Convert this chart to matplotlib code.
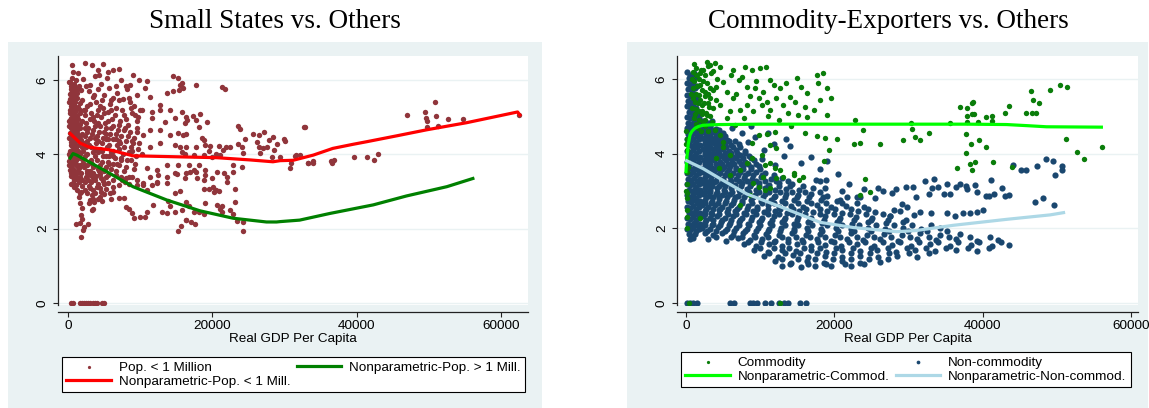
import matplotlib
matplotlib.use("Agg")
import matplotlib.pyplot as plt
from matplotlib.patches import Rectangle

# ---------------- left panel: small states ----------------
# (real GDP per capita, value) for countries with pop. < 1 million
small_pts = [
    (300, 5.95), (500, 6.05), (800, 5.9), (1100, 6.0), (1500, 5.85), (400, 5.75), (700, 5.7), (1000, 5.8),
    (1300, 5.65), (600, 5.6), (250, 5.62), (1800, 5.72), (900, 5.55),
    (300, 5.5), (500, 5.45), (750, 5.48), (1000, 5.4), (1250, 5.52), (1600, 5.38), (2000, 5.45), (350, 5.3),
    (600, 5.25), (850, 5.32), (1100, 5.22), (1400, 5.28), (2200, 5.2), (250, 5.1), (450, 5.12), (700, 5.05),
    (950, 5.15), (1200, 5.02), (1700, 5.1), (2400, 5.05), (550, 4.98), (800, 5.0),
    (300, 4.92), (450, 4.85), (650, 4.9), (900, 4.82), (1150, 4.88), (1500, 4.8), (1900, 4.9), (350, 4.72),
    (550, 4.7), (800, 4.68), (1050, 4.75), (1300, 4.65), (1700, 4.7), (2300, 4.72), (250, 4.58), (450, 4.55),
    (700, 4.6), (950, 4.52), (1200, 4.58), (1600, 4.5), (2000, 4.55), (2600, 4.6),
    (300, 4.45), (500, 4.4), (750, 4.42), (1000, 4.35), (1300, 4.4), (1800, 4.38), (2200, 4.3), (350, 4.25),
    (600, 4.22), (850, 4.28), (1100, 4.18), (1450, 4.25), (2500, 4.2), (250, 4.1), (450, 4.05), (700, 4.12),
    (950, 4.02), (1250, 4.08), (1650, 4.0), (2100, 4.1),
    (300, 3.95), (550, 3.9), (800, 3.92), (1050, 3.85), (1400, 3.9), (1900, 3.88), (2400, 3.95), (350, 3.75),
    (600, 3.7), (900, 3.78), (1200, 3.68), (1600, 3.72), (2200, 3.65), (250, 3.58), (500, 3.55), (750, 3.6),
    (1000, 3.52), (1350, 3.58), (1800, 3.5), (2600, 3.55),
    (400, 3.42), (650, 3.38), (900, 3.45), (1200, 3.35), (1600, 3.4), (2000, 3.3), (2500, 3.38), (700, 3.22),
    (1100, 3.18), (1500, 3.25), (1900, 3.15),
    (400, 5.85), (650, 5.78), (200, 5.4), (650, 5.38), (900, 5.2), (400, 4.98), (1000, 4.98), (600, 4.78),
    (200, 4.75), (1400, 4.95), (850, 4.45), (400, 4.32), (1100, 4.52), (650, 4.0), (200, 3.82), (1150, 3.98),
    (450, 3.65), (800, 3.3), (1300, 3.5), (550, 4.6), (1650, 4.82), (1900, 4.2), (2300, 4.48), (2100, 3.78),
    (150, 5.95), (450, 5.65), (800, 5.6), (1200, 5.75), (300, 5.18), (750, 5.3), (1200, 5.25), (1600, 5.2),
    (150, 4.9), (500, 4.8), (850, 4.9), (1350, 4.75), (150, 4.45), (650, 4.3), (1050, 4.45), (1550, 4.35),
    (150, 4.0), (550, 3.98), (850, 4.05), (1450, 4.1), (200, 3.7), (650, 3.82), (1100, 3.75), (1500, 3.62),
    (350, 3.5), (600, 3.48), (1050, 3.4), (1400, 3.3), (400, 3.2), (900, 3.12), (1300, 3.05), (1700, 2.95),
    # cluster just right of the column
    (2600, 3.5), (3000, 3.45), (3400, 3.5), (3900, 3.42), (4500, 3.48), (5200, 3.4), (2800, 3.3), (3200, 3.25),
    (3700, 3.32), (4200, 3.2), (4800, 3.28), (5500, 3.22), (3000, 3.1), (3500, 3.05), (4000, 3.12), (4600, 3.0),
    (5300, 3.08), (2700, 2.95), (3300, 2.9), (3800, 2.95), (4400, 2.85), (5000, 2.92), (3100, 2.78), (3600, 2.72),
    (4100, 2.8), (2300, 3.05), (1800, 2.98), (6200, 3.0), (6000, 2.8), (1500, 2.85),
    (1700, 2.68), (1900, 2.55), (1800, 2.37), (2000, 2.25), (1700, 2.14), (2200, 2.04), (2100, 1.96), (1800, 1.78),
    (1100, 2.12), (2800, 2.12), (3300, 2.5), (3500, 2.52),
    # broad cloud 2k-10k
    (2700, 5.3), (3200, 5.1), (3600, 4.9), (4100, 5.2), (4600, 5.0), (5100, 4.85), (5600, 5.15), (6100, 4.95),
    (6700, 5.25), (7200, 4.9), (7800, 5.05), (8300, 4.8), (8900, 5.1), (9500, 4.9), (10000, 5.2),
    (2800, 4.7), (3300, 4.55), (3800, 4.75), (4300, 4.6), (4800, 4.45), (5300, 4.7), (5800, 4.55), (6300, 4.4),
    (6900, 4.65), (7400, 4.5), (8000, 4.35), (8600, 4.6), (9200, 4.45), (9800, 4.3),
    (2900, 4.25), (3400, 4.05), (3900, 4.3), (4400, 4.15), (4900, 3.95), (5400, 4.2), (5900, 4.05), (6500, 3.9),
    (7000, 4.15), (7600, 4.0), (8200, 3.85), (8800, 4.1), (9400, 3.95), (10200, 4.0),
    (3000, 3.8), (3500, 3.65), (4000, 3.85), (4500, 3.7), (5000, 3.55), (5500, 3.8), (6000, 3.6), (6600, 3.45),
    (7100, 3.7), (7700, 3.55), (8500, 3.4), (9100, 3.6),
    (2900, 5.7), (3500, 5.55), (4200, 5.75), (5000, 5.6), (5900, 5.45), (6800, 5.65), (7600, 5.5), (8600, 5.4),
    (9600, 5.6), (3700, 6.1), (4600, 5.9), (5400, 6.05), (6600, 5.85), (7400, 6.0), (8200, 5.75),
    (500, 6.4), (2400, 6.45), (3300, 6.4), (4800, 6.42), (4100, 6.27), (6300, 6.27), (7100, 6.3), (9000, 6.13),
    (9900, 6.0), (11000, 5.97), (14500, 6.12), (15200, 6.06), (15800, 5.91), (700, 6.22), (1400, 6.18), (2100, 6.04),
    (5500, 6.22), (4300, 6.13), (8000, 5.85), (8600, 5.87), (5700, 5.78), (3000, 5.87), (3600, 5.61), (4700, 5.46),
    (6300, 5.51), (8400, 5.51), (11300, 5.55), (10700, 5.78), (13700, 5.64), (14600, 5.7), (15400, 5.73),
    (16000, 5.78),
    (3100, 4.45), (3700, 4.15), (4200, 4.85), (4700, 4.3), (5200, 4.55), (5700, 3.95), (6200, 4.75), (6800, 4.25),
    (7300, 3.85), (7900, 4.7), (8700, 4.2), (9600, 4.6), (3300, 3.75), (4300, 3.55), (5300, 3.65), (6300, 3.75),
    (7500, 3.3), (2500, 5.85), (3900, 5.4), (4800, 5.25), (5800, 5.35), (7000, 5.45), (9200, 5.3),
    (2400, 5.2), (3000, 5.35), (3500, 5.0), (4000, 5.05), (4500, 5.3), (5000, 5.1), (5500, 4.9), (6000, 5.2),
    (6500, 5.05), (7000, 4.8), (7500, 5.2), (8100, 4.95), (8700, 5.25), (9300, 5.05),
    (2500, 4.85), (3000, 4.95), (3500, 4.65), (4000, 4.5), (4500, 4.75), (5000, 4.6), (5500, 4.4), (6000, 4.7),
    (6600, 4.55), (7100, 4.35), (7700, 4.65), (8300, 4.5), (8900, 4.35), (9500, 4.7),
    (2600, 4.35), (3200, 4.2), (3700, 4.45), (4200, 4.35), (4700, 4.1), (5200, 4.4), (5700, 4.25), (6200, 4.1),
    (6700, 4.4), (7200, 4.3), (7800, 4.2), (8400, 4.05), (9000, 4.3), (9700, 4.15),
    (2700, 4.0), (3200, 3.85), (3700, 3.95), (4200, 4.05), (4700, 3.8), (5200, 3.95), (5700, 3.75), (6300, 3.95),
    (6800, 3.75), (7400, 3.9), (8000, 3.65), (8700, 3.85), (9300, 3.75),
    (2600, 3.7), (3100, 3.55), (3600, 3.4), (4100, 3.6), (4600, 3.35), (5100, 3.6), (5600, 3.45), (6200, 3.3),
    (6700, 3.55), (7300, 3.4), (7900, 3.25), (2400, 3.25), (2900, 3.15), (3400, 3.35), (4400, 3.1), (5000, 3.2),
    (5800, 2.95), (3500, 2.8), (2900, 2.7), (4700, 2.75),
    # 10k-17k
    (12700, 5.33), (14100, 5.19), (12700, 5.19), (11600, 5.15), (10200, 5.19), (9700, 5.01), (11600, 4.97),
    (13400, 4.88), (14800, 4.97), (16400, 5.01), (12700, 4.65), (11400, 4.65), (10400, 4.52), (14100, 4.52),
    (15300, 4.57), (16200, 4.83), (12700, 4.3), (14800, 4.25), (11400, 4.21), (15800, 4.07), (13700, 3.71),
    (12300, 3.58), (14800, 3.49), (16200, 3.35), (10900, 3.62), (9500, 3.31), (8100, 3.35), (10400, 3.17),
    (12300, 3.26), (13700, 3.4), (15300, 3.71),
    (8100, 2.59), (8400, 2.52), (8800, 2.43), (9100, 2.28), (10000, 2.32), (10700, 2.32), (11000, 2.46),
    (11800, 2.64), (13000, 2.46), (13700, 2.41), (14800, 2.46), (14100, 2.61), (16400, 2.22), (15300, 1.94),
    (15800, 2.5), (16700, 2.61), (12300, 3.22), (13700, 3.22), (14800, 2.95), (13900, 2.75), (11600, 3.17),
    (11400, 3.4), (12500, 3.44), (15100, 3.47), (16400, 3.49), (7700, 2.82), (7000, 2.82), (6300, 3.13),
    (7000, 3.17), (8400, 3.2), (8800, 3.4), (9500, 3.17), (10400, 3.22), (10900, 3.04),
    # 15k-37k
    (15500, 5.86), (17800, 5.86), (21300, 5.8), (21800, 5.75), (15800, 5.13), (17300, 5.04), (18300, 5.08),
    (17700, 4.92), (16500, 4.92), (18100, 4.74), (19200, 4.88), (23600, 4.77), (23900, 4.68), (16000, 4.52),
    (16400, 4.55), (18500, 4.45), (18800, 4.38), (15500, 4.2), (16400, 4.19), (17700, 4.2), (19000, 4.25),
    (19700, 4.22), (19500, 4.1), (20900, 4.22), (21900, 4.2), (22400, 4.19), (23600, 4.28), (24500, 4.41),
    (25700, 4.54), (26400, 4.52), (27200, 4.61), (27800, 4.38), (28400, 4.47), (29000, 4.28), (30000, 4.37),
    (32700, 4.74), (26200, 4.32), (26500, 4.2), (27000, 4.17), (27600, 4.19), (28500, 4.12), (26600, 4.04),
    (24100, 4.2), (24300, 4.04), (21500, 4.13), (21100, 3.98), (20000, 3.93), (20500, 4.02), (18800, 3.98),
    (17400, 3.98), (16200, 4.0), (16700, 3.71), (17400, 3.58), (16900, 3.53), (18200, 3.71), (19000, 3.58),
    (19000, 3.45), (17900, 3.37), (18800, 3.31), (20000, 3.37), (20600, 3.53), (21600, 3.51), (22100, 3.4),
    (22100, 3.26), (22900, 3.53), (24100, 3.67), (22900, 3.71), (23100, 3.08), (20100, 3.13), (20500, 3.04),
    (20200, 2.98), (20900, 3.01), (19600, 3.08), (18900, 3.08), (17800, 3.53), (15500, 3.01), (16400, 2.73),
    (19000, 2.69), (17400, 2.46), (18100, 2.46), (18800, 2.39), (20600, 2.64), (21400, 2.62), (21100, 2.53),
    (21400, 2.46), (22400, 2.51), (23100, 2.71), (22900, 2.39), (23400, 2.21), (24200, 2.19), (24300, 1.95),
    (16400, 2.22), (17100, 2.19), (17600, 2.13), (15700, 2.06), (28200, 3.93), (29400, 3.93), (30700, 3.64),
    (31600, 3.98), (33300, 3.76), (34000, 3.76), (36600, 3.78), (36900, 3.85), (29900, 4.40), (30900, 3.78),
    (31400, 3.96), (32100, 3.98), (32800, 4.74), (33200, 3.76), (33900, 3.81), (36500, 3.81), (39600, 3.94),
    (41500, 3.94), (42400, 3.85), (42900, 4.00),
    # rich small states
    (47000, 5.05), (49400, 5.13), (50900, 5.42), (49600, 4.97), (49800, 4.90), (49700, 4.73), (51000, 5.03),
    (51200, 4.76), (52600, 4.95), (54700, 4.95), (62500, 5.05),
]
small_zero_x = [400, 700, 1600, 1900, 2200, 2500, 2800, 3100, 3400, 3700, 4000, 4700, 5000]

np_small_x = [300, 1700, 3000, 5800, 9000, 13700, 20600, 25200, 28400, 29400, 31200, 34000,
              36700, 39500, 41400, 45600, 49700, 55200, 62300, 62600]
np_small_y = [4.56, 4.30, 4.19, 4.12, 3.96, 3.94, 3.91, 3.85, 3.80, 3.83, 3.84, 3.98,
              4.16, 4.27, 4.34, 4.50, 4.66, 4.85, 5.14, 5.06]
np_large_x = [300, 700, 1200, 2600, 5400, 9000, 13700, 18300, 22900, 27500, 28900, 29400,
              32100, 36300, 42300, 46900, 52500, 56100]
np_large_y = [3.90, 4.02, 3.98, 3.83, 3.53, 3.13, 2.77, 2.48, 2.28, 2.18, 2.18, 2.19,
              2.23, 2.41, 2.64, 2.88, 3.13, 3.35]

# ---------------- right panel: commodity exporters ----------------
com_pts = [
    (2300, 6.24), (3200, 6.38), (3900, 6.42), (4600, 6.33), (3700, 6.21), (6400, 6.24), (8000, 6.33), (8900, 6.24),
    (10000, 6.29), (10800, 6.33), (7100, 5.97), (5000, 5.93), (8200, 5.79), (9300, 5.75), (10400, 5.66),
    (11300, 5.97), (12700, 5.75), (14900, 6.02), (17600, 6.11), (17800, 5.88), (19000, 5.75), (16300, 5.62),
    (14000, 5.53), (12200, 5.48), (10900, 5.39), (9800, 5.48), (8200, 5.3), (6400, 5.48), (5500, 5.66),
    (4600, 5.3), (5900, 5.13), (7300, 5.17), (9100, 5.13), (10200, 5.3), (11300, 5.17), (13100, 5.3),
    (14700, 5.39), (16100, 5.26), (17200, 5.17), (18100, 5.44), (19000, 5.04), (15100, 5.04), (16300, 4.99),
    (18700, 4.41), (17600, 4.46), (16000, 4.54), (12000, 4.59), (10900, 4.52), (9800, 4.5), (8900, 4.28),
    (11300, 4.23), (12200, 4.14), (10200, 3.96), (8900, 3.88), (11300, 3.74), (12000, 3.61), (12700, 3.56),
    (14500, 3.47), (8200, 3.74), (7300, 3.56), (5900, 3.43), (5000, 4.19), (4100, 3.88), (4600, 4.5),
    (3900, 4.63), (3500, 4.86), (2800, 5.04), (3700, 5.21), (3200, 5.48), (2600, 5.66), (1900, 5.84),
    (1400, 6.11), (2100, 5.3), (1700, 5.57), (1200, 5.39), (1000, 5.75), (800, 5.21), (2300, 4.86),
    (4100, 5.79), (5500, 4.95), (6600, 4.77), (5000, 4.32), (5900, 3.96), (4400, 3.61), (10700, 3.7),
    (6000, 6.1), (7600, 6.05), (9500, 5.95), (11800, 5.85), (13500, 5.9), (15500, 5.78), (18500, 6.15),
    (19500, 5.5), (13800, 5.1), (12500, 4.9), (7800, 4.95), (6800, 5.6), (8600, 5.55), (11000, 5.0),
    (14200, 4.75),
    (900, 6.2), (1300, 6.3), (1700, 6.0), (2000, 6.25), (2500, 6.1), (1100, 5.95), (1500, 5.8), (2200, 5.7),
    (2800, 5.9), (3000, 5.6), (1000, 5.5), (1400, 5.2), (1900, 5.45), (2400, 5.35), (2700, 5.1), (3300, 5.0),
    (1200, 5.05), (1800, 4.9), (2200, 5.15), (1600, 4.7), (2600, 4.75), (3000, 4.6), (2000, 4.6), (1300, 4.8),
    (800, 6.0), (1100, 6.4), (2900, 6.35), (3400, 6.15), (3600, 5.7), (2500, 5.55), (1600, 5.35), (3100, 5.25),
    (700, 5.6), (1900, 6.15), (2800, 6.45), (4200, 6.0), (4000, 5.45),
    (1500, 6.1), (2300, 5.95), (1300, 5.6), (2100, 5.05), (2900, 5.35), (1700, 5.15), (2500, 4.9), (3300, 5.75),
    (1100, 4.95),
    (100, 4.4), (150, 4.1), (80, 3.8), (200, 3.5), (120, 3.2), (60, 3.0), (180, 2.8), (100, 2.5), (50, 4.6),
    (150, 2.3), (100, 2.0), (250, 3.65), (60, 4.25), (200, 2.95),
    (10400, 3.38), (12200, 3.34), (13100, 3.38), (14500, 3.43), (15200, 3.29), (15800, 3.37), (11300, 3.07),
    (9800, 3.12), (8600, 2.89), (10700, 3.03), (9100, 3.21), (7300, 2.63), (1900, 2.27),
    (22800, 4.9), (23900, 4.63), (20300, 4.39), (22700, 4.25), (23400, 4.28), (19300, 4.11), (18600, 3.81),
    (24200, 3.32), (23400, 2.9), (24800, 2.96),
    (26200, 4.27), (29200, 4.37), (30400, 4.82), (30500, 4.65), (30900, 4.45), (31600, 4.37), (32800, 4.56),
    (35600, 4.82), (36600, 3.62), (37000, 5.26), (37900, 5.22), (38500, 5.35), (38700, 5.38), (37900, 5.01),
    (37900, 4.86), (38500, 5.06), (38800, 5.06), (39400, 4.84), (40400, 4.99), (41300, 5.02), (41200, 4.87),
    (43000, 5.1), (43600, 5.28), (45800, 5.1), (46500, 5.69), (46800, 5.44), (47600, 5.37), (46600, 5.1),
    (47200, 5.08), (49100, 5.7), (50400, 5.84), (51400, 5.79), (51300, 4.39), (52700, 4.05), (53600, 3.85),
    (56100, 4.17), (37800, 4.53), (38400, 4.25), (39500, 4.37), (40400, 4.17), (37800, 4.02), (38300, 3.72),
    (38900, 3.77), (38500, 3.56), (41400, 3.77), (44000, 3.65),
]
com_zero_x = [400, 12700]

noncom_pts = [
    # poorest countries, solid column
    (150, 6.18), (600, 6.12), (1050, 6.16), (350, 6.02), (800, 5.98), (1250, 6.05),
    (120, 5.88), (550, 5.84), (1000, 5.9), (1450, 5.82), (300, 5.72), (750, 5.68), (1200, 5.75),
    (100, 5.58), (500, 5.55), (950, 5.6), (1400, 5.52), (300, 5.42), (700, 5.38), (1150, 5.45),
    (150, 5.28), (550, 5.25), (950, 5.3), (1350, 5.22), (350, 5.12), (750, 5.08), (1150, 5.15), (1600, 5.05),
    (100, 4.98), (500, 4.95), (900, 5.0), (1300, 4.92), (1800, 4.96),
    (300, 4.82), (700, 4.8), (1100, 4.85), (1500, 4.78), (1950, 4.82),
    (120, 4.68), (520, 4.65), (900, 4.7), (1300, 4.62), (1700, 4.68),
    (300, 4.52), (700, 4.5), (1100, 4.55), (1500, 4.48), (1900, 4.52),
    (150, 4.38), (550, 4.35), (950, 4.4), (1350, 4.32), (1750, 4.38),
    (350, 4.22), (750, 4.2), (1150, 4.25), (1550, 4.18), (1950, 4.22),
    (120, 4.08), (520, 4.05), (920, 4.1), (1320, 4.02), (1720, 4.08),
    (300, 3.92), (700, 3.9), (1100, 3.95), (1500, 3.88), (1900, 3.92),
    (150, 3.78), (550, 3.75), (950, 3.8), (1350, 3.72), (1750, 3.78),
    (350, 3.62), (750, 3.6), (1150, 3.65), (1550, 3.58), (1950, 3.62),
    (120, 3.48), (520, 3.45), (920, 3.5), (1320, 3.42), (1720, 3.48),
    (300, 3.32), (700, 3.3), (1100, 3.35), (1500, 3.28), (1900, 3.32),
    (150, 3.18), (550, 3.15), (950, 3.2), (1350, 3.12), (1750, 3.18),
    (350, 3.02), (750, 3.0), (1150, 3.05), (1550, 2.98), (1950, 3.02),
    (120, 2.88), (520, 2.85), (920, 2.9), (1320, 2.82), (1720, 2.88),
    (300, 2.72), (700, 2.7), (1100, 2.75), (1500, 2.68), (1900, 2.72),
    (150, 2.58), (550, 2.55), (950, 2.6), (1350, 2.52), (1750, 2.58),
    (350, 2.42), (750, 2.4), (1150, 2.45), (1550, 2.38), (1950, 2.42),
    (120, 2.28), (520, 2.25), (920, 2.3), (1320, 2.22), (1720, 2.28),
    (300, 2.12), (700, 2.1), (1100, 2.15), (1500, 2.08), (1900, 2.12),
    (150, 1.98), (550, 1.95), (950, 2.0), (1350, 1.92), (1750, 1.98),
    (350, 1.84), (750, 1.8), (1150, 1.86), (500, 1.72), (900, 1.75),
    # main body
    (2300, 4.87), (2900, 4.83), (3500, 4.88),
    (2100, 4.72), (2700, 4.68), (3300, 4.73), (4000, 4.67),
    (2400, 4.57), (3000, 4.52), (3600, 4.58), (4300, 4.53), (5000, 4.56),
    (2200, 4.42), (2800, 4.37), (3400, 4.43), (4000, 4.38), (4700, 4.41), (5500, 4.36),
    (2500, 4.27), (3100, 4.22), (3800, 4.28), (4500, 4.23), (5200, 4.27), (6000, 4.22), (7200, 4.26),
    (2300, 4.12), (2900, 4.07), (3600, 4.13), (4300, 4.08), (5000, 4.12), (5800, 4.07), (6700, 4.11), (7900, 4.08),
    (2600, 3.97), (3300, 3.92), (4000, 3.98), (4800, 3.93), (5600, 3.97), (6400, 3.92), (7300, 3.96), (8500, 3.93),
    (2400, 3.82), (3100, 3.77), (3800, 3.83), (4600, 3.78), (5400, 3.82), (6200, 3.77), (7100, 3.81), (8000, 3.78),
    (9200, 3.82),
    (2700, 3.67), (3500, 3.62), (4300, 3.68), (5100, 3.63), (5900, 3.67), (6800, 3.62), (7700, 3.66), (8700, 3.63),
    (9800, 3.67),
    (2300, 3.52), (3000, 3.47), (3800, 3.53), (4600, 3.48), (5500, 3.52), (6400, 3.47), (7300, 3.51), (8300, 3.48),
    (9400, 3.52), (10600, 3.47),
    (2600, 3.37), (3400, 3.32), (4200, 3.38), (5000, 3.33), (5900, 3.37), (6800, 3.32), (7800, 3.36), (8900, 3.33),
    (10100, 3.37), (11500, 3.32), (13000, 3.36),
    (2200, 3.22), (3000, 3.17), (3800, 3.23), (4700, 3.18), (5600, 3.22), (6600, 3.17), (7600, 3.21), (8700, 3.18),
    (9900, 3.22), (11200, 3.17), (12600, 3.21), (14300, 3.18),
    (2500, 3.07), (3300, 3.02), (4200, 3.08), (5100, 3.03), (6100, 3.07), (7100, 3.02), (8200, 3.06), (9400, 3.03),
    (10700, 3.07), (12000, 3.02), (13500, 3.06), (15200, 3.03), (17100, 3.07),
    (2300, 2.92), (3100, 2.87), (4000, 2.93), (4900, 2.88), (5900, 2.92), (7000, 2.87), (8100, 2.91), (9300, 2.88),
    (10600, 2.92), (12000, 2.87), (13500, 2.91), (15100, 2.88), (16900, 2.92), (19000, 2.87),
    (2600, 2.77), (3500, 2.72), (4400, 2.78), (5400, 2.73), (6500, 2.77), (7600, 2.72), (8800, 2.76), (10100, 2.73),
    (11500, 2.77), (13000, 2.72), (14600, 2.76), (16300, 2.73), (18200, 2.77), (20300, 2.72),
    (2200, 2.62), (3000, 2.57), (3900, 2.63), (4900, 2.58), (6000, 2.62), (7100, 2.57), (8300, 2.61), (9600, 2.58),
    (11000, 2.62), (12500, 2.57), (14100, 2.61), (15800, 2.58), (17600, 2.62), (19500, 2.57), (21600, 2.61),
    (24000, 2.58),
    (2500, 2.47), (3400, 2.42), (4400, 2.48), (5500, 2.43), (6600, 2.47), (7800, 2.42), (9100, 2.46), (10500, 2.43),
    (12000, 2.47), (13600, 2.42), (15300, 2.46), (17100, 2.43), (19000, 2.47), (21000, 2.42), (23200, 2.46),
    (25500, 2.43),
    (2300, 2.32), (3200, 2.27), (4200, 2.33), (5300, 2.28), (6400, 2.32), (7600, 2.27), (8900, 2.31), (10300, 2.28),
    (11800, 2.32), (13400, 2.27), (15100, 2.31), (16900, 2.28), (18800, 2.32), (20800, 2.27), (22900, 2.31),
    (25100, 2.28), (27500, 2.32),
    (2600, 2.17), (3600, 2.12), (4700, 2.18), (5900, 2.13), (7100, 2.17), (8400, 2.12), (9800, 2.16), (11300, 2.13),
    (12900, 2.17), (14600, 2.12), (16400, 2.16), (18300, 2.13), (20300, 2.17), (22400, 2.12), (24600, 2.16),
    (26900, 2.13), (29300, 2.17),
    (2200, 2.02), (3200, 1.97), (4300, 2.03), (5500, 1.98), (6800, 2.02), (8200, 1.97), (9700, 2.01), (11200, 1.98),
    (12800, 2.02), (14500, 1.97), (16300, 2.01), (18200, 1.98), (20200, 2.02), (22300, 1.97), (24500, 2.01),
    (26800, 1.98), (29200, 2.02), (31700, 1.97), (34300, 2.01),
    (2500, 1.87), (3600, 1.82), (4900, 1.88), (6300, 1.83), (7700, 1.87), (9200, 1.82), (10800, 1.86), (12500, 1.83),
    (14300, 1.87), (16200, 1.82), (18100, 1.86), (20100, 1.83), (22200, 1.87), (24400, 1.82), (26700, 1.86),
    (29100, 1.83), (31600, 1.87), (34200, 1.82), (37000, 1.86),
    (3000, 1.72), (5400, 1.67), (7000, 1.73), (8600, 1.68), (10300, 1.72), (12000, 1.67), (13800, 1.71),
    (15700, 1.68), (17600, 1.72), (19600, 1.67), (21700, 1.71), (23900, 1.68), (26200, 1.72), (28600, 1.67),
    (31100, 1.71), (33700, 1.68), (36400, 1.72), (39200, 1.67), (42000, 1.69),
    (7800, 1.57), (9500, 1.52), (11200, 1.58), (13000, 1.53), (14900, 1.57), (16800, 1.52), (18800, 1.56),
    (20900, 1.53), (23100, 1.57), (25400, 1.52), (27800, 1.56), (30300, 1.53), (32900, 1.57), (35600, 1.52),
    (38400, 1.56), (41300, 1.53), (43500, 1.55),
    (9200, 1.42), (11000, 1.37), (12900, 1.43), (14800, 1.38), (16800, 1.42), (18900, 1.37), (21100, 1.41),
    (23400, 1.38), (25800, 1.42), (28300, 1.37), (30900, 1.41), (33600, 1.38), (36400, 1.42), (39200, 1.40),
    (10500, 1.27), (12400, 1.22), (14400, 1.28), (16500, 1.23), (18700, 1.27), (21000, 1.22), (23400, 1.26),
    (25900, 1.23), (28500, 1.27), (31200, 1.22),
    (12000, 1.12), (14100, 1.07), (16300, 1.13), (18600, 1.08), (21000, 1.12), (23500, 1.07), (26100, 1.11),
    (12900, 0.99), (15500, 0.97), (17400, 1.0), (19600, 0.98), (22300, 1.0),
    # second layer of the body, between the rows above
    (2600, 4.78), (3200, 4.78),
    (2400, 4.63), (3000, 4.63), (3700, 4.63), (4400, 4.63),
    (2700, 4.48), (3300, 4.48), (4000, 4.48), (4700, 4.48), (5300, 4.48),
    (2500, 4.33), (3100, 4.33), (3700, 4.33), (4300, 4.33), (5000, 4.33), (5800, 4.33), (6600, 4.33),
    (2700, 4.18), (3300, 4.18), (4000, 4.18), (4700, 4.18), (5400, 4.18), (6300, 4.18), (7300, 4.18),
    (2500, 4.03), (3000, 4.03), (3700, 4.03), (4400, 4.03), (5200, 4.03), (6000, 4.03), (6900, 4.03), (8000, 4.03),
    (2800, 3.88), (3500, 3.88), (4300, 3.88), (5100, 3.88), (5900, 3.88), (6800, 3.88), (7700, 3.88), (8800, 3.88),
    (2600, 3.73), (3300, 3.73), (4000, 3.73), (4800, 3.73), (5600, 3.73), (6500, 3.73), (7400, 3.73), (8300, 3.73),
    (9400, 3.73),
    (2500, 3.58), (3200, 3.58), (4000, 3.58), (4900, 3.58), (5800, 3.58), (6700, 3.58), (7700, 3.58), (8800, 3.58),
    (10000, 3.58),
    (2800, 3.43), (3500, 3.43), (4300, 3.43), (5200, 3.43), (6100, 3.43), (7000, 3.43), (8000, 3.43), (9100, 3.43),
    (10300, 3.43), (11800, 3.43),
    (2500, 3.28), (3300, 3.28), (4100, 3.28), (5000, 3.28), (6000, 3.28), (7100, 3.28), (8200, 3.28), (9400, 3.28),
    (10700, 3.28), (12100, 3.28), (13700, 3.28),
    (2700, 3.13), (3500, 3.13), (4400, 3.13), (5300, 3.13), (6300, 3.13), (7400, 3.13), (8600, 3.13), (9800, 3.13),
    (11100, 3.13), (12500, 3.13), (14000, 3.13), (15800, 3.13),
    (2500, 2.98), (3300, 2.98), (4200, 2.98), (5200, 2.98), (6200, 2.98), (7300, 2.98), (8500, 2.98), (9800, 2.98),
    (11200, 2.98), (12700, 2.98), (14300, 2.98), (16000, 2.98), (18000, 2.98),
    (2700, 2.83), (3600, 2.83), (4500, 2.83), (5500, 2.83), (6600, 2.83), (7800, 2.83), (9100, 2.83), (10400, 2.83),
    (11800, 2.83), (13300, 2.83), (14900, 2.83), (16600, 2.83), (18500, 2.83),
    (2500, 2.68), (3400, 2.68), (4300, 2.68), (5300, 2.68), (6400, 2.68), (7600, 2.68), (8900, 2.68), (10300, 2.68),
    (11800, 2.68), (13400, 2.68), (15100, 2.68), (16900, 2.68), (18900, 2.68), (21000, 2.68), (23000, 2.68),
    (2700, 2.53), (3600, 2.53), (4600, 2.53), (5700, 2.53), (6900, 2.53), (8200, 2.53), (9600, 2.53), (11100, 2.53),
    (12700, 2.53), (14400, 2.53), (16200, 2.53), (18100, 2.53), (20100, 2.53), (22300, 2.53), (24600, 2.53),
    (2500, 2.38), (3500, 2.38), (4500, 2.38), (5600, 2.38), (6800, 2.38), (8100, 2.38), (9500, 2.38), (11000, 2.38),
    (12600, 2.38), (14300, 2.38), (16100, 2.38), (18000, 2.38), (20000, 2.38), (22100, 2.38), (24300, 2.38),
    (26600, 2.38),
    (2700, 2.23), (3700, 2.23), (4800, 2.23), (6000, 2.23), (7300, 2.23), (8700, 2.23), (10100, 2.23), (11600, 2.23),
    (13200, 2.23), (14900, 2.23), (16700, 2.23), (18600, 2.23), (20600, 2.23), (22700, 2.23), (24900, 2.23),
    (27200, 2.23), (29600, 2.23),
    (2500, 2.08), (3500, 2.08), (4600, 2.08), (5800, 2.08), (7100, 2.08), (8500, 2.08), (10000, 2.08), (11600, 2.08),
    (13300, 2.08), (15100, 2.08), (17000, 2.08), (19000, 2.08), (21100, 2.08), (23300, 2.08), (25600, 2.08),
    (28000, 2.08), (30500, 2.08), (33000, 2.08),
    (2800, 1.93), (4000, 1.93), (5200, 1.93), (6500, 1.93), (7900, 1.93), (9400, 1.93), (11000, 1.93), (12700, 1.93),
    (14500, 1.93), (16400, 1.93), (18400, 1.93), (20500, 1.93), (22700, 1.93), (25000, 1.93), (27400, 1.93),
    (29900, 1.93), (32500, 1.93), (35200, 1.93),
    (4000, 1.78), (6000, 1.78), (7600, 1.78), (9300, 1.78), (11100, 1.78), (12900, 1.78), (14800, 1.78), (16700, 1.78),
    (18700, 1.78), (20800, 1.78), (23000, 1.78), (25300, 1.78), (27700, 1.78), (30200, 1.78), (32800, 1.78),
    (35500, 1.78), (38300, 1.78), (41000, 1.78),
    (8400, 1.63), (10100, 1.63), (11900, 1.63), (13800, 1.63), (15800, 1.63), (17800, 1.63), (19900, 1.63),
    (22000, 1.63), (24200, 1.63), (26500, 1.63), (28900, 1.63), (31400, 1.63), (34000, 1.63), (36700, 1.63),
    (39500, 1.63), (42500, 1.63),
    (10000, 1.48), (11900, 1.48), (13900, 1.48), (15900, 1.48), (18000, 1.48), (20200, 1.48), (22500, 1.48),
    (24900, 1.48), (27300, 1.48), (29800, 1.48), (32400, 1.48), (35100, 1.48), (38000, 1.48), (40800, 1.48),
    (11200, 1.33), (13300, 1.33), (15400, 1.33), (17600, 1.33), (19900, 1.33), (22300, 1.33), (24800, 1.33),
    (27400, 1.33), (30000, 1.33), (32700, 1.33),
    (12900, 1.18), (15100, 1.18), (17400, 1.18), (19800, 1.18), (22200, 1.18), (24700, 1.18), (27300, 1.18),
    (14000, 1.04), (16500, 1.04), (18900, 1.04), (21400, 1.04), (24000, 1.04),
    # scattered richer non-commodity economies
    (6200, 4.7), (7500, 4.55), (8400, 4.3), (9300, 4.45), (10500, 4.1), (11800, 4.25), (13200, 3.95), (14000, 4.2),
    (15500, 3.75), (16800, 3.9), (18000, 3.6), (19000, 3.8), (20500, 3.45), (12000, 3.7), (10300, 3.85),
    (17500, 3.3), (22000, 3.2), (24000, 3.05), (26500, 3.0), (23000, 2.85), (25500, 2.8), (27800, 2.95),
    (21000, 3.0), (11000, 4.55), (13500, 4.4), (8800, 4.75),
    (18100, 3.27), (18700, 3.07), (20800, 2.76), (18900, 3.29), (21700, 2.85), (23500, 2.83), (25900, 3.07),
    (44100, 3.69), (45200, 3.56), (45800, 3.57), (47300, 3.67), (48500, 3.86), (49500, 3.81), (50700, 3.68),
    (50700, 3.57), (49800, 3.44), (47100, 2.71), (48100, 2.8), (49600, 2.63), (41100, 3.29), (42600, 3.09),
    (43600, 2.88), (43000, 2.87), (41500, 2.92), (40800, 2.87), (40400, 2.87), (39200, 2.98), (39000, 3.16),
    (37900, 3.05), (37800, 3.14), (37000, 3.2), (36400, 3.11), (35600, 2.93), (34800, 2.92), (35200, 3.18),
    (34000, 3.11), (33100, 3.09), (33400, 3.32), (32200, 3.26), (30600, 3.11), (29700, 3.11), (28300, 3.06),
    (29100, 2.66), (31000, 2.84), (32800, 2.92), (39200, 2.45), (40100, 2.48), (38300, 2.42), (37400, 2.41),
    (36300, 2.32), (35200, 2.42), (33000, 2.41), (31600, 2.45), (30700, 2.36), (29800, 2.57), (28900, 2.46),
    (28000, 2.49), (27500, 2.32),
]
noncom_zero_x = [100, 500, 900, 1500, 5900, 6500, 8600, 9100, 9600, 10600, 11500, 12600, 13200, 13800,
                 15400, 16200]

np_com_x = [0, 100, 300, 540, 800, 1200, 1700, 2300, 3200, 4600, 10000, 20000, 26200, 30200,
            38000, 43200, 46000, 48600, 56000]
np_com_y = [3.52, 3.85, 4.25, 4.50, 4.60, 4.68, 4.73, 4.76, 4.77, 4.78, 4.79, 4.79, 4.79, 4.79,
            4.79, 4.78, 4.75, 4.72, 4.71]
np_noncom_x = [100, 2300, 4600, 8200, 12700, 18100, 22600, 28400, 31000, 36000, 43200, 49100, 50900]
np_noncom_y = [3.81, 3.60, 3.33, 2.92, 2.58, 2.16, 2.02, 1.91, 1.94, 2.08, 2.24, 2.36, 2.42]

xticks = [0, 20000, 40000, 60000]
yticks = [0, 2, 4, 6]

W, H = 1149, 408
BG = "#EAF2F3"
FS = 9.7

plt.rcParams["font.family"] = ["Liberation Sans", "DejaVu Sans"]

fig = plt.figure(figsize=(W / 100, H / 100), dpi=100)
fig.patch.set_facecolor("white")
# grey-blue panel backgrounds behind each graph
for x0, x1 in [(8, 542), (627, 1148)]:
    fig.patches.append(Rectangle((x0 / W, 0), (x1 - x0) / W, (H - 42) / H, transform=fig.transFigure,
                                 facecolor=BG, edgecolor="none", zorder=-5))


def add_ax(l, t, r, b):
    ax = fig.add_axes([l / W, 1 - b / H, (r - l) / W, (b - t) / H])
    ax.set_zorder(1)
    return ax


def style(ax, xlim, ylim):
    ax.set_xlim(*xlim)
    ax.set_ylim(*ylim)
    ax.set_xticks(xticks)
    ax.set_yticks(yticks)
    ax.grid(axis="y", color=BG, lw=1.0)
    ax.set_axisbelow(True)
    for s in ["top", "right"]:
        ax.spines[s].set_visible(False)
    for s in ["left", "bottom"]:
        ax.spines[s].set_linewidth(0.9)
        ax.spines[s].set_color("#222222")
    ax.spines["bottom"].set_position(("outward", 5))
    ax.tick_params(axis="both", length=3.6, width=0.8, color="#222222", labelsize=FS)
    ax.tick_params(axis="x", pad=2)
    ax.tick_params(axis="y", pad=3)
    for lab in ax.get_yticklabels():
        lab.set_rotation(90)
        lab.set_ha("right")
        lab.set_va("center")
    ax.set_xlabel("Real GDP Per Capita", fontsize=FS, labelpad=1)


def xy(pts):
    return [p[0] for p in pts], [p[1] for p in pts]


# ---- Small States vs. Others ----
ax1 = add_ax(58, 56, 528, 305)
style(ax1, (-1386, 63740), (-0.054, 6.646))
sx, sy = xy(small_pts)
sc1 = ax1.scatter(sx + small_zero_x, sy + [0] * len(small_zero_x), s=15, color="#90353B",
                  linewidths=0, zorder=2)
ln_small, = ax1.plot(np_small_x, np_small_y, color="#FF0000", lw=2.3, zorder=3)
ln_large, = ax1.plot(np_large_x, np_large_y, color="#008000", lw=2.3, zorder=3)

leg_kw = dict(ncol=2, loc="upper left", bbox_transform=fig.transFigure, borderaxespad=0, fontsize=FS,
              fancybox=False, edgecolor="black", framealpha=1, handlelength=3.3, handletextpad=0.6,
              columnspacing=0.45, labelspacing=0.1, borderpad=0.32, scatterpoints=1, markerscale=0.6)

leg1 = ax1.legend([sc1, ln_small, ln_large],
                  ["Pop. < 1 Million", "Nonparametric-Pop. < 1 Mill.", "Nonparametric-Pop. > 1 Mill."],
                  bbox_to_anchor=(62 / W, 1 - 357 / H), **leg_kw)
leg1.get_frame().set_linewidth(0.8)

# ---- Commodity-Exporters vs. Others ----
ax2 = add_ax(677, 56, 1138, 305)
style(ax2, (-1213, 60940), (-0.054, 6.616))
nx, ny = xy(noncom_pts)
sc_non = ax2.scatter(nx + noncom_zero_x, ny + [0] * len(noncom_zero_x), s=20, color="#1A476F",
                     linewidths=0, zorder=2)
cx, cy = xy(com_pts)
sc_com = ax2.scatter(cx + com_zero_x, cy + [0] * len(com_zero_x), s=15, color="#0A7D0A",
                     linewidths=0, zorder=2.5)
ln_com, = ax2.plot(np_com_x, np_com_y, color="#00FF00", lw=2.3, zorder=3)
ln_non, = ax2.plot(np_noncom_x, np_noncom_y, color="#ADD8E6", lw=2.3, zorder=3)

leg2 = ax2.legend([sc_com, ln_com, sc_non, ln_non],
                  ["Commodity", "Nonparametric-Commod.", "Non-commodity", "Nonparametric-Non-commod."],
                  bbox_to_anchor=(681 / W, 1 - 352 / H), **leg_kw)
leg2.get_frame().set_linewidth(0.8)

fig.text(275 / W, 1 - 28 / H, "Small States vs. Others", ha="center", va="baseline",
         fontsize=19.5, family=["Liberation Serif", "DejaVu Serif"])
fig.text(888 / W, 1 - 28 / H, "Commodity-Exporters vs. Others", ha="center", va="baseline",
         fontsize=19.5, family=["Liberation Serif", "DejaVu Serif"])

fig.savefig("out.png", dpi=100)
